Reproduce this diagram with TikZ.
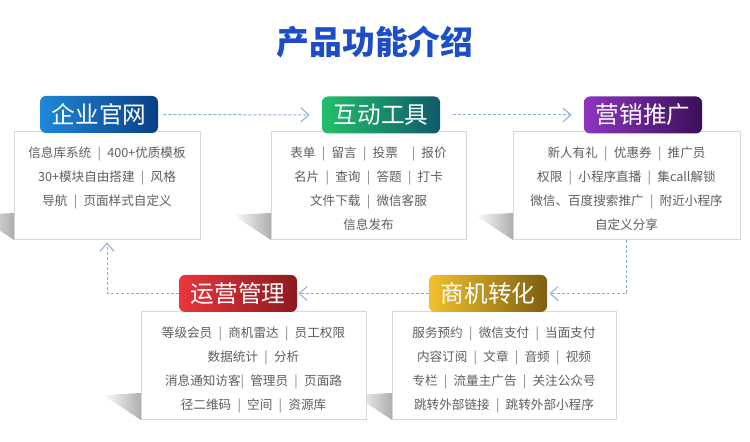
\documentclass[tikz,border=0pt]{standalone}
\usepackage{fontspec}
\setmainfont{Noto Sans CJK SC}
\usepackage{xcolor}
\usetikzlibrary{arrows.meta, positioning, calc}
\definecolor{titleblue}{HTML}{1E4EC6}
\definecolor{txtgray}{HTML}{5E5E5E}
\definecolor{lineblue}{HTML}{8FAAD0}
\definecolor{cardline}{HTML}{D8D8D8}
\definecolor{blueL}{HTML}{1E88D8}
\definecolor{blueR}{HTML}{0A3E85}
\definecolor{greenL}{HTML}{22C06A}
\definecolor{greenR}{HTML}{10596C}
\definecolor{purpleL}{HTML}{8E35C0}
\definecolor{purpleR}{HTML}{3A0F58}
\definecolor{redL}{HTML}{EA363C}
\definecolor{redR}{HTML}{8C1A20}
\definecolor{goldL}{HTML}{F2C12E}
\definecolor{goldR}{HTML}{7E5E10}
\def\pxu{0.5pt}
\newcommand{\sepbar}{\hspace{0.5em}{\color{txtgray!80}|}\hspace{0.5em}}
\tikzset{
  tag/.style={rounded corners=3pt, minimum width=118*\pxu, minimum height=37*\pxu,
    inner sep=0pt, text=white, font=\fontsize{11.8}{13}\selectfont},
  card/.style={draw=cardline, line width=0.5pt, fill=white, minimum height=108*\pxu, inner sep=0pt},
  cardtext/.style={anchor=north, align=center, inner sep=0pt, text=txtgray,
    font=\fontsize{6.3}{12}\selectfont},
  flow/.style={draw=lineblue, line width=0.5pt, dash pattern=on 1.5pt off 1pt,
    -{Straight Barb[length=4pt,width=7pt]}}
}
\begin{document}
\begin{tikzpicture}[x=\pxu, y=-\pxu]
  \useasboundingbox (0,0) rectangle (750,442);

  \node[font=\fontsize{16.4}{18}\selectfont\bfseries, text=titleblue] (title) at (375,42) {产品功能介绍};

  \foreach \xl/\yb in {14/240, 271/240, 513/240, 141/420, 392/420}
    \shade[left color=white, right color=black!32] (\xl-38,\yb-25) -- (\xl,\yb-27) -- (\xl,\yb) -- cycle;

  \node[card, minimum width=186*\pxu] (card1) at (107,186) {};
  \node[card, minimum width=195*\pxu] (card2) at (368.5,186) {};
  \node[card, minimum width=227*\pxu] (card3) at (626.5,186) {};
  \node[card, minimum width=225*\pxu] (card4) at (253.5,366) {};
  \node[card, minimum width=224*\pxu] (card5) at (504,366) {};

  \node[cardtext] (text1) at ($(card1.north)+(0,15)$)
    {信息库系统\sepbar 400+优质模板\\30+模块自由搭建\sepbar 风格\\导航\sepbar 页面样式自定义};
  \node[cardtext] (text2) at ($(card2.north)+(0,15)$)
    {表单\sepbar 留言\sepbar 投票\hspace{0.6em}\sepbar 报价\\名片\sepbar 查询\sepbar 答题\sepbar 打卡\\文件下载\sepbar 微信客服\\信息发布};
  \node[cardtext] (text3) at ($(card3.north)+(0,15)$)
    {新人有礼\sepbar 优惠券\sepbar 推广员\\权限\sepbar 小程序直播\sepbar 集call解锁\\微信、百度搜索推广\sepbar 附近小程序\\自定义分享};
  \node[cardtext] (text4) at ($(card4.north)+(0,15)$)
    {等级会员\sepbar 商机雷达\sepbar 员工权限\\数据统计\sepbar 分析\\消息通知访客{\color{txtgray!80}|}\hspace{0.5em}管理员\sepbar 页面路\\径二维码\sepbar 空间\sepbar 资源库};
  \node[cardtext] (text5) at ($(card5.north)+(0,15)$)
    {服务预约\sepbar 微信支付\sepbar 当面支付\\内容订阅\sepbar 文章\sepbar 音频\sepbar 视频\\专栏\sepbar 流量主广告\sepbar 关注公众号\\跳转外部链接\sepbar 跳转外部小程序};

  \node[tag, left color=blueL, right color=blueR] (tag1) at (99,114.5) {企业官网};
  \node[tag, left color=greenL, right color=greenR] (tag2) at (381,115) {互动工具};
  \node[tag, left color=purpleL, right color=purpleR] (tag3) at (643,115) {营销推广};
  \node[tag, left color=redL, right color=redR] (tag4) at (238,293.5) {运营管理};
  \node[tag, left color=goldL, right color=goldR] (tag5) at (488,293.5) {商机转化};

  \draw[flow, shorten <=5*\pxu, shorten >=12*\pxu] (tag1) -- (tag2);
  \draw[flow, shorten <=13*\pxu, shorten >=12*\pxu] (tag2) -- (tag3);
  \draw[flow, shorten >=2*\pxu] (card3.south) |- (tag5.east);
  \draw[flow, shorten >=1*\pxu] (tag5) -- (tag4);
  \draw[flow, shorten >=2*\pxu] (tag4.west) -| (card1.south);
\end{tikzpicture}
\end{document}
